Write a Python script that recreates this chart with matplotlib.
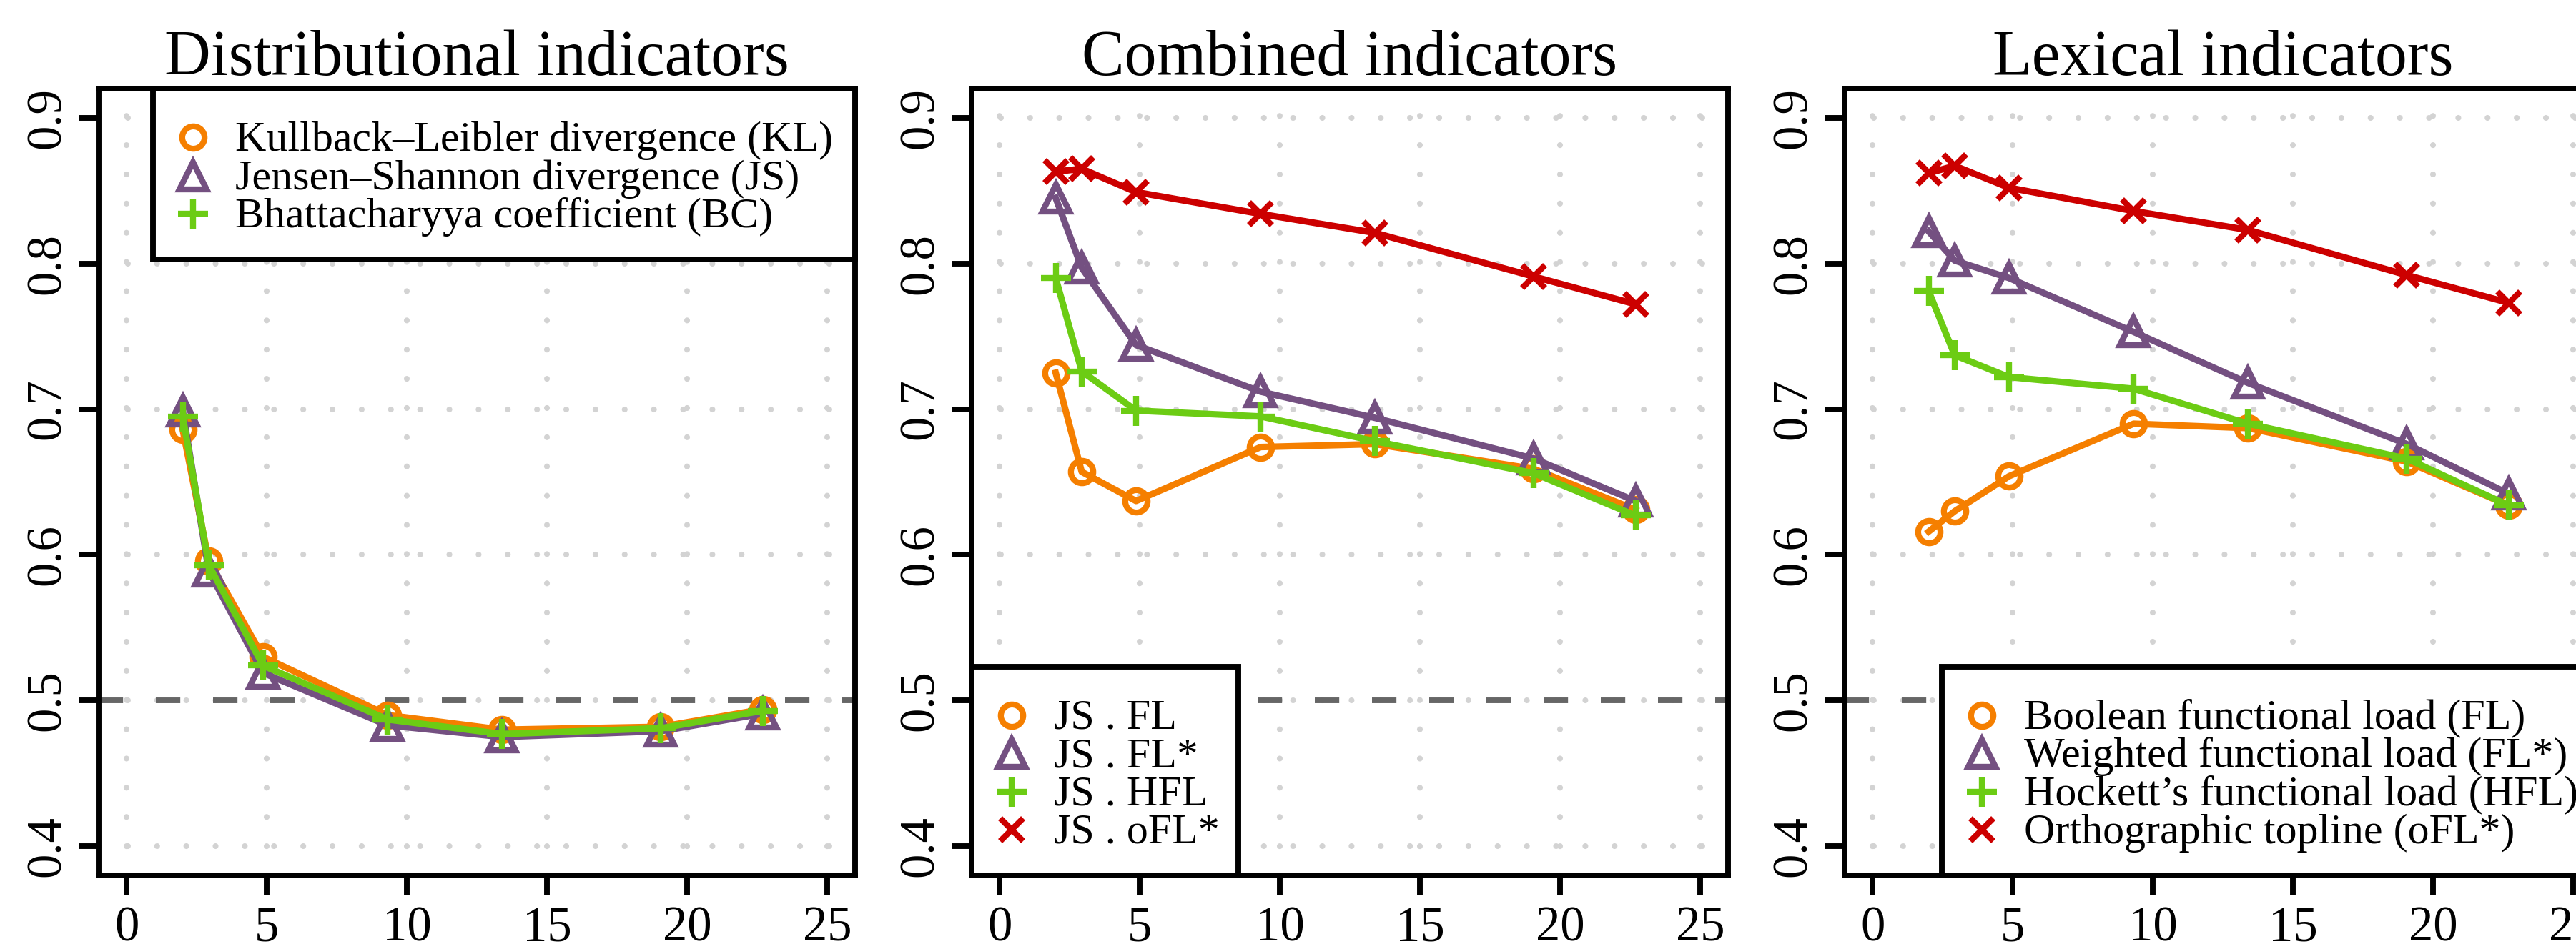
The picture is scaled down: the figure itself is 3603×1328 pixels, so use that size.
import numpy as np
import matplotlib
matplotlib.use("Agg")
import matplotlib.pyplot as plt
from matplotlib.patches import Rectangle

plt.rcParams['font.family'] = ['Liberation Serif', 'DejaVu Serif']
plt.rcParams['lines.scale_dashes'] = False

# window sizes (x axis) shared by all three panels
x = [2.0, 2.93, 4.87, 9.32, 13.4, 19.07, 22.7]

# distributional indicators
kl = [0.686, 0.596, 0.530, 0.490, 0.480, 0.482, 0.494]
js = [0.699, 0.589, 0.519, 0.483, 0.475, 0.479, 0.491]
bc = [0.695, 0.593, 0.524, 0.487, 0.477, 0.481, 0.493]

# combined indicators
js_fl = [0.725, 0.657, 0.637, 0.674, 0.676, 0.659, 0.631]
js_flw = [0.845, 0.797, 0.744, 0.712, 0.694, 0.666, 0.637]
js_hfl = [0.790, 0.726, 0.699, 0.695, 0.678, 0.656, 0.627]
js_ofl = [0.863, 0.865, 0.849, 0.834, 0.821, 0.791, 0.772]

# lexical indicators
fl = [0.616, 0.630, 0.654, 0.690, 0.687, 0.664, 0.634]
flw = [0.822, 0.802, 0.790, 0.753, 0.718, 0.676, 0.642]
hfl = [0.781, 0.737, 0.722, 0.714, 0.690, 0.666, 0.634]
ofl = [0.862, 0.867, 0.852, 0.836, 0.823, 0.792, 0.773]

titles = ["Distributional indicators", "Combined indicators", "Lexical indicators"]
labels1 = ["Kullback\u2013Leibler divergence (KL)", "Jensen\u2013Shannon divergence (JS)",
           "Bhattacharyya coefficient (BC)"]
labels2 = ["JS . FL", "JS . FL*", "JS . HFL", "JS . oFL*"]
labels3 = ["Boolean functional load (FL)", "Weighted functional load (FL*)",
           "Hockett\u2019s functional load (HFL)", "Orthographic topline (oFL*)"]

orange = "#F57F00"
purple = "#745081"
green = "#6CCC14"
red = "#CC0000"
colors = [orange, purple, green, red]
markers = ["o", "^", "+", "x"]
msizes = {"o": 7.5, "^": 9, "+": 10, "x": 7.5}

W, H = 3603, 1328
fig = plt.figure(figsize=(W / 300, H / 300), dpi=300)

def make_axes(i):
    left = 138 + i * 1221
    ax = fig.add_axes([left / W, 103 / H, 1058 / W, 1101 / H])
    ax.set_xlim(-1, 26)
    ax.set_ylim(0.38, 0.92)
    ax.set_xticks([0, 5, 10, 15, 20, 25])
    ax.set_yticks([0.4, 0.5, 0.6, 0.7, 0.8, 0.9])
    ax.set_yticklabels(["0.4", "0.5", "0.6", "0.7", "0.8", "0.9"], rotation=90, va="center")
    ax.tick_params(axis="x", length=6.4, width=1.9, labelsize=16.5, pad=4)
    ax.tick_params(axis="y", length=6.4, width=1.9, labelsize=16.5, pad=3)
    for s in ax.spines.values():
        s.set_linewidth(1.9)
    # dotted grid
    for g in [0, 5, 10, 15, 20, 25]:
        ax.axvline(g, color="#D3D3D3", lw=1.95, linestyle=(0, (0.01, 9.8)),
                   dash_capstyle="round", zorder=0)
    for g in [0.4, 0.5, 0.6, 0.7, 0.8, 0.9]:
        ax.axhline(g, color="#D3D3D3", lw=1.95, linestyle=(0, (0.01, 9.8)),
                   dash_capstyle="round", zorder=0)
    ax.axhline(0.5, color="#666666", lw=1.9, linestyle=(0, (8.2, 11)), zorder=1)
    ax.set_title(titles[i], fontsize=21.5, pad=4)
    return ax

def series(ax, ys, k):
    m = markers[k]
    ax.plot(x, ys, color=colors[k], lw=2.2, marker=m, ms=msizes[m],
            mfc="none", mec=colors[k], mew=2.0, zorder=3, clip_on=False)

def key(ax, labels, left, right):
    # legend box drawn in axes fraction, rows 53.5 px apart
    n = len(labels)
    aw, ah = 1058.0, 1101.0
    hbox = (68 + (n - 1) * 53.5 + 64) / ah
    if ax is axes[0]:
        bottom, top = 1 - hbox, 1.0
    else:
        bottom, top = 0.0, hbox
    ax.add_patch(Rectangle((left, bottom), right - left, top - bottom, transform=ax.transAxes,
                           fill=True, fc="white", ec="black", lw=1.9, zorder=5, clip_on=False))
    for j, lab in enumerate(labels):
        yr = top - (68 + j * 53.5) / ah
        m = markers[j]
        ax.plot([left + 56 / aw], [yr], transform=ax.transAxes, marker=m, ms=msizes[m],
                mfc="none", mec=colors[j], mew=2.0, ls="none", zorder=6, clip_on=False)
        ax.text(left + 115 / aw, yr - 19 / ah, lab, transform=ax.transAxes, fontsize=14.4,
                va="baseline", ha="left", zorder=6, clip_on=False)

axes = [make_axes(i) for i in range(3)]

for k, ys in enumerate([kl, js, bc]):
    series(axes[0], ys, k)
for k, ys in enumerate([js_fl, js_flw, js_hfl, js_ofl]):
    series(axes[1], ys, k)
for k, ys in enumerate([fl, flw, hfl, ofl]):
    series(axes[2], ys, k)

key(axes[0], labels1, 76 / 1058, 1.0)
key(axes[1], labels2, 0.0, 373 / 1058)
key(axes[2], labels3, 136 / 1058, 1.0)

fig.savefig("out.png", dpi=300)
